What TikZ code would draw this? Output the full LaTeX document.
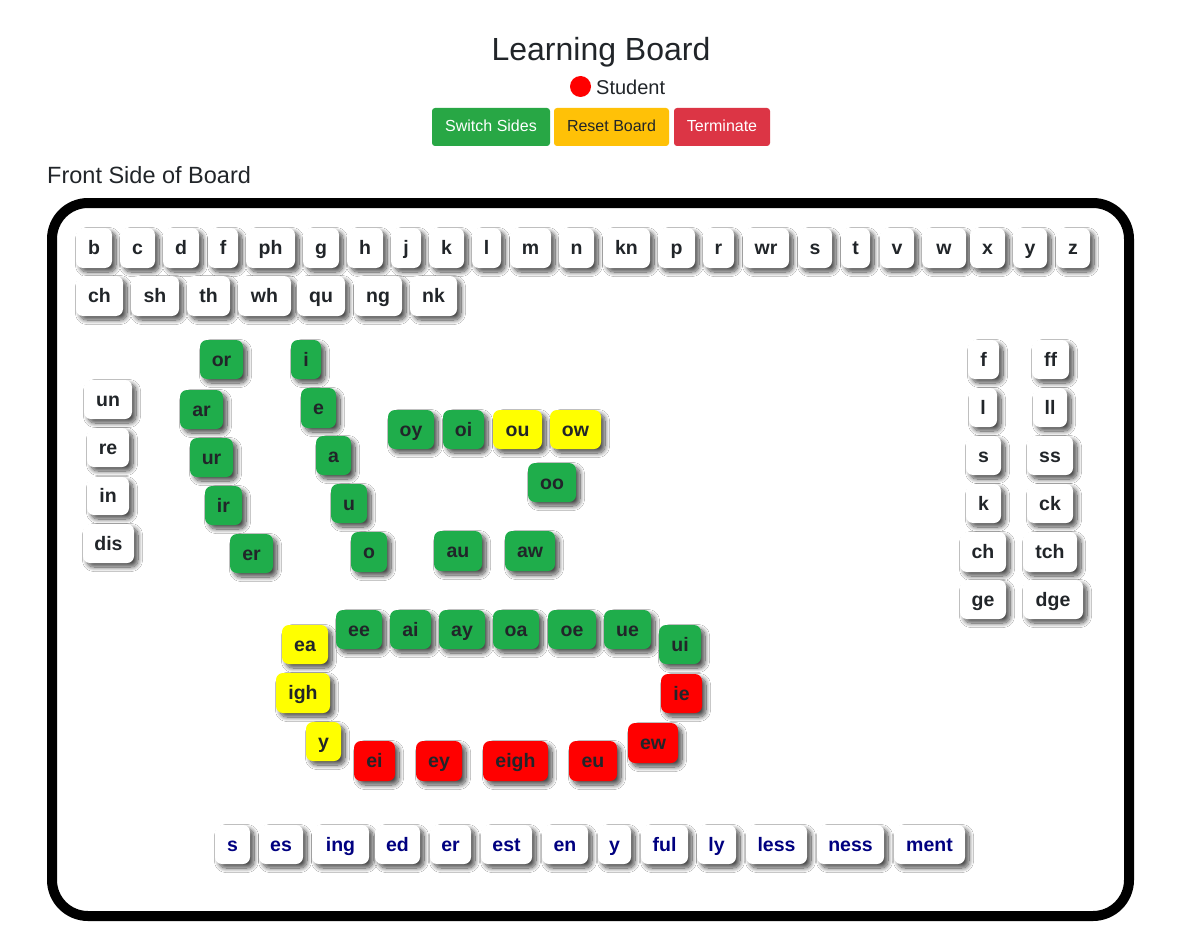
\documentclass[tikz,border=0pt]{standalone}
\usepackage{fontspec}
\setmainfont{Liberation Sans}
\usetikzlibrary{shadows.blur}
\definecolor{ink}{HTML}{212529}
\definecolor{tilegreen}{RGB}{31,173,75}
\definecolor{tileyellow}{RGB}{255,255,0}
\definecolor{tilered}{RGB}{255,0,0}
\definecolor{btngreen}{HTML}{28A745}
\definecolor{btnyellow}{HTML}{FFC107}
\definecolor{btnred}{HTML}{DC3545}
\definecolor{suffixblue}{HTML}{000080}
\tikzset{
  tilebox/.style={rectangle, rounded corners=7pt, inner sep=0pt, outer sep=0pt, fill=white, text=ink,
    font=\fontsize{19.5}{20}\selectfont\bfseries, text height=15pt, text depth=2pt,
    blur shadow={shadow xshift=4pt, shadow yshift=-4pt, shadow blur radius=4.5pt, shadow blur steps=12, shadow opacity=70}},
  gr/.style={fill=tilegreen},
  ye/.style={fill=tileyellow},
  rd/.style={fill=tilered},
  sfx/.style={text=suffixblue},
  btn/.style={rectangle, rounded corners=3pt, inner sep=0pt, font=\fontsize{16}{16}\selectfont,
    text height=12pt, text depth=3pt},
  heading/.style={inner sep=0pt, text=ink},
}
\newcommand\mytile[7][]{\node[tilebox,#1, minimum width={(#4-#3)*1pt}, minimum height={(#6-#5)*1pt}] (#2) at ({(#3+#4)/2},{(#5+#6)/2}) {#7};}
\newcommand\mybtn[7][]{\node[btn,#1, minimum width={(#4-#3)*1pt}, minimum height={(#6-#5)*1pt}] (#2) at ({(#3+#4)/2},{(#5+#6)/2}) {#7};}
\begin{document}
\begin{tikzpicture}[x=1pt,y=-1pt]
\useasboundingbox (0,0) rectangle (1186,947);
\fill[white] (0,0) rectangle (1186,947);

% header
\node[heading, anchor=base, font=\fontsize{32}{32}\selectfont] (title) at (601,61) {Learning Board};
\node[circle, fill=red, inner sep=0pt, minimum size=21pt] (dot) at (580.5,86.5) {};
\node[heading, anchor=base west, font=\fontsize{20}{20}\selectfont] (student) at (596,95) {Student};
\mybtn[fill=btngreen, text=white]{switch}{432}{550}{108}{146}{Switch Sides}
\mybtn[fill=btnyellow, text=ink]{reset}{554}{669}{108}{146}{Reset Board}
\mybtn[fill=btnred, text=white]{term}{674}{770}{108}{146}{Terminate}
\node[heading, anchor=base west, font=\fontsize{23.5}{24}\selectfont] (front) at (47,183) {Front Side of Board};

% board
\node[draw=black, line width=10pt, rounded corners=36pt, minimum width=1077pt, minimum height=713pt, inner sep=0pt, outer sep=0pt] (board) at (590.5,559.5) {};

% consonant row 1
\mytile{c-b}{76}{112}{228}{268}{b}
\mytile{c-c}{120}{155}{228}{268}{c}
\mytile{c-d}{163}{199}{228}{268}{d}
\mytile{c-f}{208}{238}{228}{268}{f}
\mytile{c-ph}{246}{295}{228}{268}{ph}
\mytile{c-g}{303}{339}{228}{268}{g}
\mytile{c-h}{347}{383}{228}{268}{h}
\mytile{c-j}{391}{421}{228}{268}{j}
\mytile{c-k}{429}{464}{228}{268}{k}
\mytile{c-l}{472}{501}{228}{268}{l}
\mytile{c-m}{510}{551}{228}{268}{m}
\mytile{c-n}{559}{594}{228}{268}{n}
\mytile{c-kn}{603}{650}{228}{268}{kn}
\mytile{c-p}{658}{695}{228}{268}{p}
\mytile{c-r}{703}{734}{228}{268}{r}
\mytile{c-wr}{743}{789}{228}{268}{wr}
\mytile{c-s}{798}{832}{228}{268}{s}
\mytile{c-t}{841}{870}{228}{268}{t}
\mytile{c-v}{880}{914}{228}{268}{v}
\mytile{c-w}{922}{966}{228}{268}{w}
\mytile{c-x}{970}{1005}{228}{268}{x}
\mytile{c-y}{1013}{1047}{228}{268}{y}
\mytile{c-z}{1056}{1090}{228}{268}{z}
% consonant row 2
\mytile{d-ch}{76}{123}{276}{316}{ch}
\mytile{d-sh}{131}{179}{276}{316}{sh}
\mytile{d-th}{187}{230}{276}{316}{th}
\mytile{d-wh}{238}{291}{276}{316}{wh}
\mytile{d-qu}{297}{345}{276}{316}{qu}
\mytile{d-ng}{354}{402}{276}{316}{ng}
\mytile{d-nk}{410}{457}{276}{316}{nk}

% prefixes
\mytile{p-un}{84}{132}{380}{419}{un}
\mytile{p-re}{87}{129}{428}{467}{re}
\mytile{p-in}{87}{129}{477}{515}{in}
\mytile{p-dis}{83}{134}{524}{563}{dis}

% r-controlled
\mytile[gr]{r-or}{200}{243}{340}{379}{or}
\mytile[gr]{r-ar}{180}{223}{390}{429}{ar}
\mytile[gr]{r-ur}{190}{233}{438}{477}{ur}
\mytile[gr]{r-ir}{205}{242}{486}{525}{ir}
\mytile[gr]{r-er}{230}{273}{534}{573}{er}

% short vowels
\mytile[gr]{v-i}{291}{321}{340}{379}{i}
\mytile[gr]{v-e}{301}{336}{388}{428}{e}
\mytile[gr]{v-a}{316}{351}{436}{475}{a}
\mytile[gr]{v-u}{331}{367}{484}{523}{u}
\mytile[gr]{v-o}{351}{387}{532}{572}{o}

% diphthongs
\mytile[gr]{g-oy}{388}{434}{410}{449}{oy}
\mytile[gr]{g-oi}{443}{484}{410}{449}{oi}
\mytile[ye]{g-ou}{493}{542}{410}{449}{ou}
\mytile[ye]{g-ow}{550}{601}{410}{449}{ow}
\mytile[gr]{g-oo}{528}{576}{463}{502}{oo}
\mytile[gr]{g-au}{434}{482}{531}{571}{au}
\mytile[gr]{g-aw}{505}{555}{531}{571}{aw}

% right columns
\mytile{f-f}{968}{999}{340}{379}{f}
\mytile{f-ff}{1032}{1069}{340}{379}{ff}
\mytile{f-l}{969}{997}{388}{427}{l}
\mytile{f-ll}{1033}{1067}{388}{427}{ll}
\mytile{f-s}{966}{1001}{436}{475}{s}
\mytile{f-ss}{1027}{1073}{436}{475}{ss}
\mytile{f-k}{966}{1001}{484}{523}{k}
\mytile{f-ck}{1027}{1073}{484}{523}{ck}
\mytile{f-ch}{960}{1006}{532}{572}{ch}
\mytile{f-tch}{1023}{1077}{532}{572}{tch}
\mytile{f-ge}{960}{1006}{580}{619}{ge}
\mytile{f-dge}{1023}{1083}{580}{619}{dge}

% vowel teams
\mytile[ye]{t-ea}{282}{328}{625}{664}{ea}
\mytile[ye]{t-igh}{276}{330}{673}{713}{igh}
\mytile[ye]{t-y}{306}{341}{722}{761}{y}
\mytile[gr]{t-ee}{336}{382}{610}{649}{ee}
\mytile[gr]{t-ai}{390}{431}{610}{649}{ai}
\mytile[gr]{t-ay}{439}{485}{610}{649}{ay}
\mytile[gr]{t-oa}{493}{539}{610}{649}{oa}
\mytile[gr]{t-oe}{548}{596}{610}{649}{oe}
\mytile[gr]{t-ue}{604}{651}{610}{649}{ue}
\mytile[gr]{t-ui}{659}{701}{625}{664}{ui}
\mytile[rd]{t-ie}{661}{702}{674}{713}{ie}
\mytile[rd]{t-ew}{628}{678}{723}{763}{ew}
\mytile[rd]{t-ei}{354}{395}{741}{781}{ei}
\mytile[rd]{t-ey}{416}{462}{741}{781}{ey}
\mytile[rd]{t-eigh}{483}{548}{741}{781}{eigh}
\mytile[rd]{t-eu}{569}{617}{741}{781}{eu}

% suffixes
\mytile[sfx]{s-s}{215}{250}{825}{864}{s}
\mytile[sfx]{s-es}{259}{303}{825}{864}{es}
\mytile[sfx]{s-ing}{312}{369}{825}{864}{ing}
\mytile[sfx]{s-ed}{375}{420}{825}{864}{ed}
\mytile[sfx]{s-er}{430}{471}{825}{864}{er}
\mytile[sfx]{s-est}{481}{532}{825}{864}{est}
\mytile[sfx]{s-en}{542}{588}{825}{864}{en}
\mytile[sfx]{s-y}{598}{631}{825}{864}{y}
\mytile[sfx]{s-ful}{641}{688}{825}{864}{ful}
\mytile[sfx]{s-ly}{697}{736}{825}{864}{ly}
\mytile[sfx]{s-less}{746}{807}{825}{864}{less}
\mytile[sfx]{s-ness}{817}{884}{825}{864}{ness}
\mytile[sfx]{s-ment}{894}{965}{825}{864}{ment}
\end{tikzpicture}
\end{document}
